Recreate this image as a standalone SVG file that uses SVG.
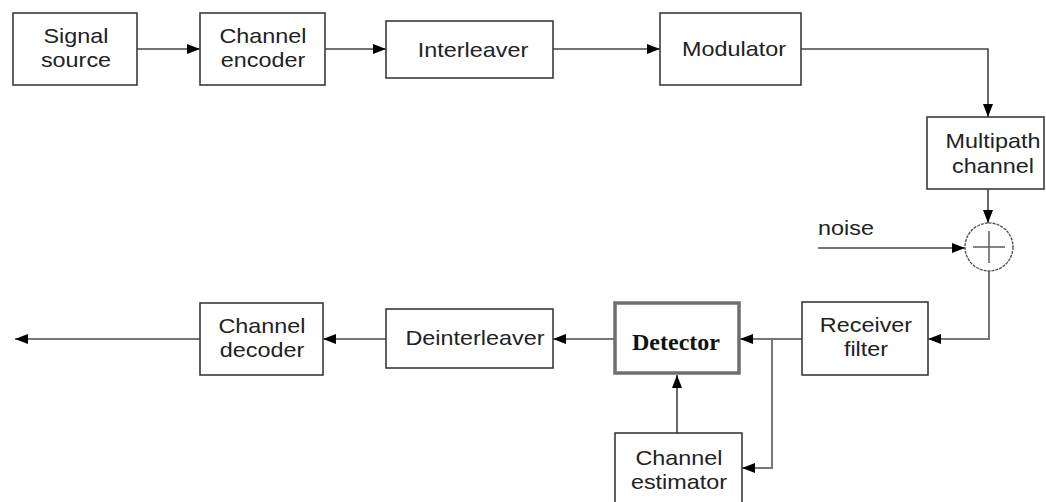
<svg xmlns="http://www.w3.org/2000/svg" width="1046" height="502" viewBox="0 0 1046 502">
<style>
.box{fill:#fff;stroke:#3a3a3a;stroke-width:1.6}
.thick{fill:#fff;stroke:#6e6e6e;stroke-width:3.5}
.t{font-family:"Liberation Sans",Arial,sans-serif;font-size:20px;fill:#222;text-anchor:middle}
.tb{font-family:"Liberation Serif","Times New Roman",serif;font-size:24px;font-weight:bold;fill:#111;text-anchor:middle}
.c{fill:none;stroke:#444;stroke-width:1.6}
.cl{fill:none;stroke:#777;stroke-width:2}
</style>
<defs>
<marker id="ah" markerUnits="userSpaceOnUse" markerWidth="14" markerHeight="10" refX="13" refY="5" orient="auto">
<path d="M0,0 L13,5 L0,10 Z" fill="#000"/>
</marker>
</defs>
<g id="connectors">
<line class="c" x1="137" y1="49" x2="200" y2="49" marker-end="url(#ah)"/>
<line class="c" x1="325" y1="49" x2="386" y2="49" marker-end="url(#ah)"/>
<line class="c" x1="553" y1="49" x2="660" y2="49" marker-end="url(#ah)"/>
<polyline class="c" points="801,49 988,49 988,117" marker-end="url(#ah)"/>
<line class="c" x1="988" y1="189" x2="988" y2="223" marker-end="url(#ah)"/>
<line class="cl" x1="818" y1="248" x2="965" y2="248" marker-end="url(#ah)"/>
<polyline class="cl" points="989,271 989,339 928,339" marker-end="url(#ah)"/>
<line class="cl" x1="802" y1="339" x2="740" y2="339" marker-end="url(#ah)"/>
<polyline class="cl" points="772,339 772,468 742,468" marker-end="url(#ah)"/>
<line class="c" x1="677" y1="433" x2="677" y2="375" marker-end="url(#ah)"/>
<line class="cl" x1="615" y1="339" x2="553" y2="339" marker-end="url(#ah)"/>
<line class="cl" x1="386" y1="339" x2="323" y2="339" marker-end="url(#ah)"/>
<line class="cl" x1="200" y1="339" x2="15" y2="339" marker-end="url(#ah)"/>
</g>
<g id="signal-source"><rect class="box" x="13" y="13" width="124" height="72"/><text class="t" transform="translate(76,43) scale(1.17,1)">Signal</text><text class="t" transform="translate(76,67) scale(1.17,1)">source</text></g>
<g id="channel-encoder"><rect class="box" x="200" y="13" width="125" height="72"/><text class="t" transform="translate(263,43) scale(1.17,1)">Channel</text><text class="t" transform="translate(263,67) scale(1.17,1)">encoder</text></g>
<g id="interleaver"><rect class="box" x="386" y="21" width="167" height="57"/><text class="t" transform="translate(473,57) scale(1.17,1)">Interleaver</text></g>
<g id="modulator"><rect class="box" x="660" y="13" width="141" height="72"/><text class="t" transform="translate(734,56) scale(1.17,1)">Modulator</text></g>
<g id="multipath-channel"><rect class="box" x="927" y="117" width="117" height="72"/><text class="t" transform="translate(993,148) scale(1.17,1)">Multipath</text><text class="t" transform="translate(993,173) scale(1.17,1)">channel</text></g>
<g id="adder"><circle cx="989" cy="247" r="24" fill="#fff" stroke="#555" stroke-width="1.4" stroke-dasharray="3,1"/><line x1="973" y1="247" x2="1005" y2="247" stroke="#666" stroke-width="1.6"/><line x1="989" y1="231" x2="989" y2="263" stroke="#666" stroke-width="1.6"/></g>
<g id="noise"><text class="t" transform="translate(818,235) scale(1.17,1)" style="text-anchor:start">noise</text></g>
<g id="receiver-filter"><rect class="box" x="802" y="302" width="126" height="73"/><text class="t" transform="translate(866,332) scale(1.17,1)">Receiver</text><text class="t" transform="translate(866,356) scale(1.17,1)">filter</text></g>
<g id="detector"><rect class="thick" x="615" y="303" width="124" height="70"/><text class="tb" x="676" y="350">Detector</text></g>
<g id="channel-estimator"><rect class="box" x="615" y="433" width="127" height="72" stroke="#6e6e6e" stroke-width="2.5"/><text class="t" transform="translate(679,465) scale(1.17,1)">Channel</text><text class="t" transform="translate(679,489) scale(1.17,1)">estimator</text></g>
<g id="deinterleaver"><rect class="box" x="386" y="309" width="167" height="59"/><text class="t" transform="translate(475,345) scale(1.17,1)">Deinterleaver</text></g>
<g id="channel-decoder"><rect class="box" x="200" y="303" width="123" height="72"/><text class="t" transform="translate(262,333) scale(1.17,1)">Channel</text><text class="t" transform="translate(262,357) scale(1.17,1)">decoder</text></g>
</svg>
